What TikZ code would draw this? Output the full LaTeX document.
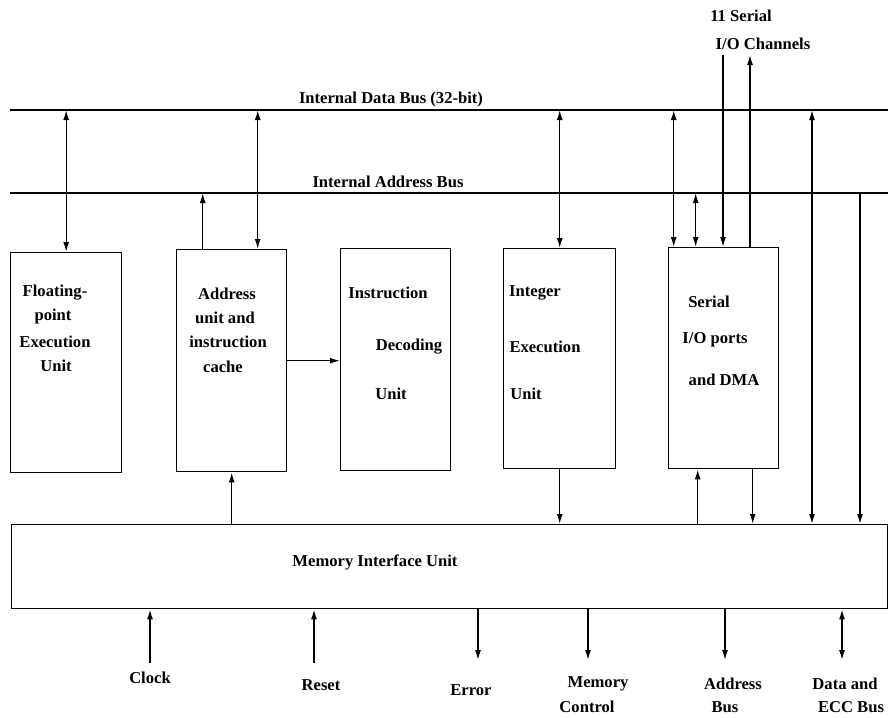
\documentclass[tikz,border=0pt]{standalone}
\usepackage{fontspec}
\setmainfont{Liberation Serif}
\usetikzlibrary{arrows.meta}
\begin{document}
\begin{tikzpicture}[x=1pt,y=-1pt,
  line width=1.4pt,
  box/.style={draw, line width=1.4pt, inner sep=0pt, anchor=north west},
  lbl/.style={font=\fontsize{16.6}{19}\selectfont\bfseries, inner sep=0pt},
  sarr/.style={-{Latex[length=10pt,width=6pt]}},
  darr/.style={{Latex[length=10pt,width=6pt]}-{Latex[length=10pt,width=6pt]}}]
\useasboundingbox (0,0) rectangle (888,717);
% buses
\coordinate (dL) at (10,110);
\coordinate (dR) at (888,110);
\coordinate (aL) at (10,193);
\coordinate (aR) at (888,193);
\draw (dL) -- (dR);
\draw (aL) -- (aR);
\node[lbl] (dbl) at (391,100) {Internal Data Bus (32-bit)};
\node[lbl] (abl) at (388,182) {Internal Address Bus};
% boxes
\node[box, minimum width=111pt, minimum height=220pt] (fp) at (10,252) {};
\node[box, minimum width=110pt, minimum height=222pt] (addr) at (176,249) {};
\node[box, minimum width=110pt, minimum height=222pt] (instr) at (340,248) {};
\node[box, minimum width=112pt, minimum height=220pt] (int) at (503,248) {};
\node[box, minimum width=110pt, minimum height=221pt] (ser) at (668,247) {};
\node[box, minimum width=876pt, minimum height=84pt] (miu) at (11,524) {};
% box texts
\node[lbl] (fp1) at (55,293) {Floating-};
\node[lbl] (fp2) at (53,317) {point};
\node[lbl] (fp3) at (55,342) {Execution};
\node[lbl] (fp4) at (56,366) {Unit};
\node[lbl] (ad1) at (227,294) {Address};
\node[lbl] (ad2) at (225,318) {unit and};
\node[lbl] (ad3) at (228,342) {instruction};
\node[lbl] (ad4) at (223,367) {cache};
\node[lbl] (in1) at (388,293) {Instruction};
\node[lbl] (in2) at (409,347) {Decoding};
\node[lbl] (in3) at (391,394) {Unit};
\node[lbl] (it1) at (535,293) {Integer};
\node[lbl] (it2) at (545,347) {Execution};
\node[lbl] (it3) at (526,394) {Unit};
\node[lbl] (se1) at (709,302) {Serial};
\node[lbl] (se2) at (715,340) {I/O ports};
\node[lbl] (se3) at (724,380) {and DMA};
\node[lbl] (miul) at (375,562) {Memory Interface Unit};
% top labels
\node[lbl] (ch1) at (741,16) {11 Serial};
\node[lbl] (ch2) at (763,44) {I/O Channels};
\coordinate (chin) at (723,55);
\coordinate (chout) at (750,55);
% bus connections
\draw[darr] (fp.north) -- (fp.north |- dL);
\draw[sarr] ([xshift=-29pt]addr.north) -- ([xshift=-29pt]addr.north |- aL);
\draw[darr] ([xshift=26pt]addr.north) -- ([xshift=26pt]addr.north |- dL);
\draw[darr] (int.north) -- (int.north |- dL);
\draw[darr] ([xshift=-50pt]ser.north) -- ([xshift=-50pt]ser.north |- dL);
\draw[darr] ([xshift=-28pt]ser.north) -- ([xshift=-28pt]ser.north |- aL);
\draw[sarr] (chin) -- (chin |- ser.north);
\draw[sarr] (chout |- ser.north) -- (chout);
\draw[sarr] (addr.east) -- (addr.east -| instr.west);
% to memory interface
\draw[sarr] (miu.north -| addr.south) -- (addr.south);
\draw[sarr] (int.south) -- (int.south |- miu.north);
\draw[sarr] ([xshift=-26pt]ser.south |- miu.north) -- ([xshift=-26pt]ser.south);
\draw[sarr] ([xshift=29pt]ser.south) -- ([xshift=29pt]ser.south |- miu.north);
\coordinate (dx) at (812,110);
\coordinate (ax) at (860,193);
\draw[darr] (dx) -- (dx |- miu.north);
\draw[sarr] (ax) -- (ax |- miu.north);
% bottom signals
\coordinate (clk) at (150,663);
\coordinate (rst) at (314,663);
\coordinate (err) at (478,660);
\coordinate (mc) at (588,660);
\coordinate (ab) at (725,660);
\coordinate (db) at (842,660);
\draw[sarr] (clk) -- (clk |- miu.south);
\draw[sarr] (rst) -- (rst |- miu.south);
\draw[sarr] (err |- miu.south) -- (err);
\draw[sarr] (mc |- miu.south) -- (mc);
\draw[sarr] (ab |- miu.south) -- (ab);
\draw[darr] (db |- miu.south) -- (db);
\node[lbl] (clkl) at (150,678) {Clock};
\node[lbl] (rstl) at (321,685) {Reset};
\node[lbl] (errl) at (471,690) {Error};
\node[lbl] (mcl1) at (598,684) {Memory};
\node[lbl] (mcl2) at (587,707) {Control};
\node[lbl] (abl1) at (733,684) {Address};
\node[lbl] (abl2) at (725,707) {Bus};
\node[lbl] (dbl1) at (845,684) {Data and};
\node[lbl] (dbl2) at (851,707) {ECC Bus};
\end{tikzpicture}
\end{document}
